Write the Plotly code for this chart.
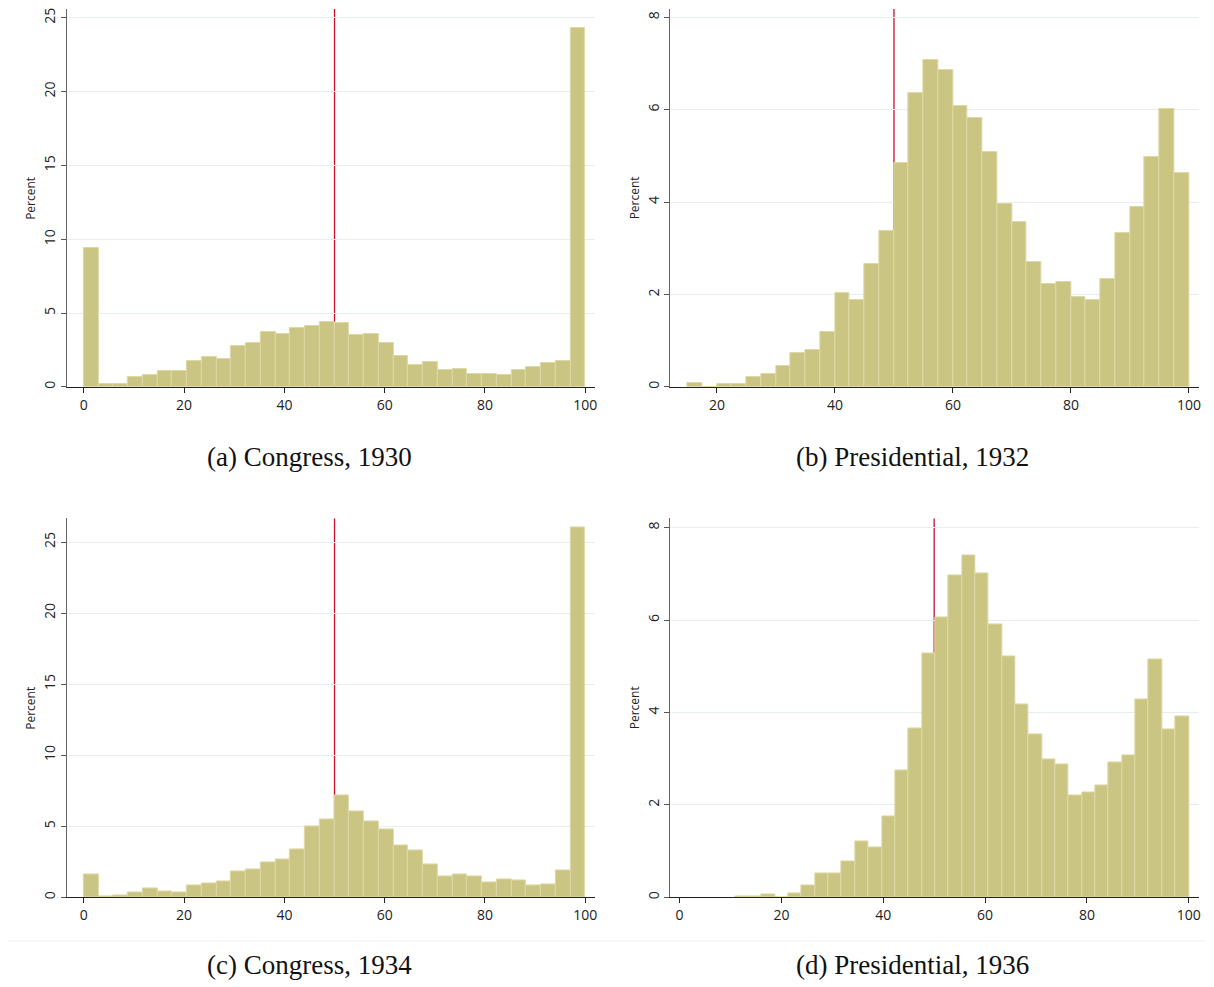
import plotly.graph_objects as go

# ---------------- data ----------------
panel_captions = ["(a) Congress, 1930", "(b) Presidential, 1932",
                  "(c) Congress, 1934", "(d) Presidential, 1936"]

a_bin_start = 0.0
a_bin_width = 100 / 34
a_percent = [9.43, 0.2, 0.2, 0.68, 0.83, 1.1, 1.1, 1.75, 2.03, 1.89,
             2.77, 2.97, 3.71, 3.58, 3.98, 4.12, 4.39, 4.32, 3.51, 3.58,
             2.97, 2.09, 1.49, 1.69, 1.15, 1.22, 0.88, 0.88, 0.79, 1.15,
             1.35, 1.62, 1.75, 24.28]

b_bin_start = 15.0
b_bin_width = 2.5
b_percent = [0.08, 0, 0.065, 0.065, 0.22, 0.28, 0.45, 0.73, 0.8, 1.19,
             2.03, 1.87, 2.66, 3.37, 4.85, 6.37, 7.08, 6.86, 6.08, 5.82,
             5.08, 3.95, 3.56, 2.71, 2.22, 2.28, 1.94, 1.87, 2.33, 3.32,
             3.9, 4.98, 6.02, 4.62]

c_bin_start = 0.0
c_bin_width = 100 / 34
c_percent = [1.64, 0.05, 0.12, 0.37, 0.61, 0.44, 0.35, 0.8, 0.94, 1.08,
             1.85, 1.99, 2.48, 2.69, 3.39, 4.99, 5.48, 7.19, 6.04, 5.36,
             4.78, 3.68, 3.32, 2.34, 1.5, 1.64, 1.5, 1.03, 1.24, 1.15,
             0.8, 0.87, 1.87, 26.0]

d_bin_start = 10.9
d_bin_width = (100 - 10.9) / 34
d_percent = [0.02, 0.02, 0.07, 0, 0.09, 0.26, 0.52, 0.52, 0.78, 1.2,
             1.07, 1.75, 2.74, 3.66, 5.28, 6.05, 6.96, 7.39, 7.0, 5.9,
             5.22, 4.18, 3.53, 2.99, 2.88, 2.21, 2.28, 2.41, 2.92, 3.07,
             4.28, 5.15, 3.64, 3.92]

cutoff = 50

a_yticks = [0, 5, 10, 15, 20, 25]
b_yticks = [0, 2, 4, 6, 8]
a_xticks = [0, 20, 40, 60, 80, 100]
b_xticks = [20, 40, 60, 80, 100]
d_xticks = [0, 20, 40, 60, 80, 100]

# ---------------- layout helpers ----------------
OFF = 8  # default page body margin
W, H = 1214 - OFF, 987 - OFF
BAR = "#CBC583"
BAR_EDGE = "#DDD9A6"
GRID = "#E7EEEF"
RED = "#C8102E"
TICKFONT = dict(family="Open Sans, DejaVu Sans, sans-serif", size=14, color="#222")


def clamp(v):
    return max(0.0, min(1.0, v))


def px_x(p):
    return clamp((p - OFF) / W)


def px_y(p):
    return clamp(1 - (p - OFF) / H)


panels = [
    dict(v=a_percent, s=a_bin_start, w=a_bin_width, xd=(67, 596), yd=(8, 387),
         xr=(-3.38, 101.85), yr=(0, 25.6), xt=a_xticks, yt=a_yticks),
    dict(v=b_percent, s=b_bin_start, w=b_bin_width, xd=(672, 1202), yd=(8, 387),
         xr=(12.1, 101.7), yr=(0, 8.18), xt=b_xticks, yt=b_yticks),
    dict(v=c_percent, s=c_bin_start, w=c_bin_width, xd=(67, 596), yd=(519, 899),
         xr=(-3.38, 101.85), yr=(0, 26.66), xt=a_xticks, yt=a_yticks),
    dict(v=d_percent, s=d_bin_start, w=d_bin_width, xd=(672, 1202), yd=(519, 899),
         xr=(-1.8, 102.0), yr=(0, 8.2), xt=d_xticks, yt=b_yticks),
]

fig = go.Figure()
layout = dict(width=W, height=H, margin=dict(l=0, r=0, t=0, b=0),
              paper_bgcolor="white", plot_bgcolor="white", showlegend=False,
              bargap=0, shapes=[], annotations=[])

for i, p in enumerate(panels):
    n = i + 1
    xa = "x" if n == 1 else f"x{n}"
    ya = "y" if n == 1 else f"y{n}"
    centers = [p["s"] + (k + 0.5) * p["w"] for k in range(len(p["v"]))]
    fig.add_trace(go.Bar(x=centers, y=p["v"], width=p["w"], xaxis=xa, yaxis=ya,
                         marker=dict(color=BAR, line=dict(color=BAR_EDGE, width=1))))
    xkey = "xaxis" if n == 1 else f"xaxis{n}"
    ykey = "yaxis" if n == 1 else f"yaxis{n}"
    layout[xkey] = dict(domain=[px_x(p["xd"][0]), px_x(p["xd"][1])], range=list(p["xr"]),
                        anchor=ya, tickvals=p["xt"], ticks="outside", ticklen=5,
                        tickcolor="#222", showline=True, linecolor="#222", linewidth=1.2,
                        showgrid=False, zeroline=False, tickfont=TICKFONT,
                        ticklabeloverflow="allow")
    layout[ykey] = dict(domain=[px_y(p["yd"][1]), px_y(p["yd"][0])], range=list(p["yr"]),
                        anchor=xa, tickvals=p["yt"], ticks="outside", ticklen=5,
                        tickcolor="#555", showline=True, linecolor="#666", linewidth=1.2,
                        showgrid=True, gridcolor=GRID, gridwidth=1, zeroline=False,
                        tickangle=-90, tickfont=TICKFONT, ticklabeloverflow="allow")
    layout["shapes"].append(dict(type="line", layer="below", xref=xa, yref=f"{ya} domain",
                                 x0=cutoff, x1=cutoff, y0=0, y1=1,
                                 line=dict(color=RED, width=1.3)))
    layout["annotations"].append(dict(text="Percent", textangle=-90, showarrow=False,
                                      xref="paper", yref="paper",
                                      x=px_x(p["xd"][0] - 36), y=px_y((p["yd"][0] + p["yd"][1]) / 2),
                                      xanchor="center", yanchor="middle",
                                      font=dict(family="Open Sans, DejaVu Sans, sans-serif",
                                                size=12, color="#222")))

caption_pos = [(310, 457), (915, 457), (310, 967), (915, 967)]
for cap, (cx, cy) in zip(panel_captions, caption_pos):
    layout["annotations"].append(dict(text=cap, showarrow=False, xref="paper", yref="paper",
                                      x=px_x(cx), y=px_y(cy), xanchor="center", yanchor="middle",
                                      font=dict(family="Liberation Serif, serif", size=27,
                                                color="#111")))

layout["shapes"].append(dict(type="line", xref="paper", yref="paper",
                             x0=0, x1=1, y0=px_y(943), y1=px_y(943),
                             line=dict(color="#EEF2F2", width=1)))

fig.update_layout(**layout)
fig.write_html("out.html")
